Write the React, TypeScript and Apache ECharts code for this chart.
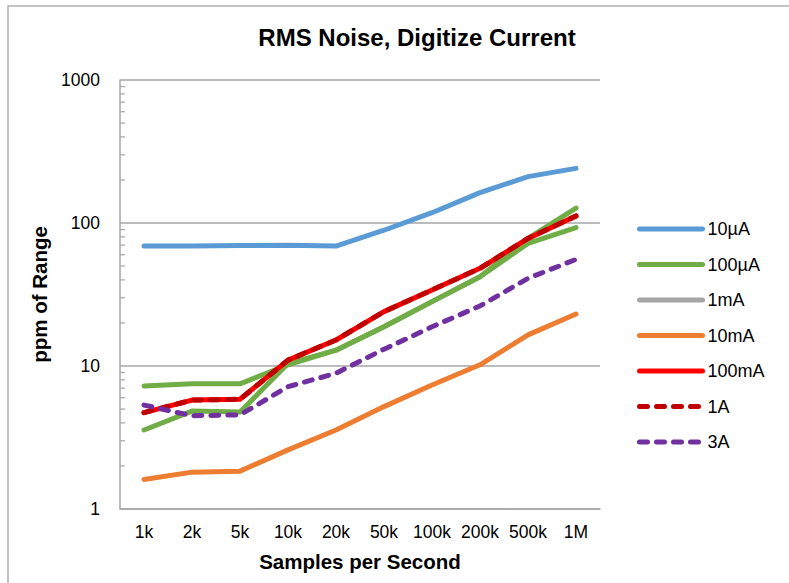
import React, { useEffect, useRef } from "react";
import * as echarts from "echarts";

const categories = ["1k", "2k", "5k", "10k", "20k", "50k", "100k", "200k", "500k", "1M"];
const s10uA = [69, 69, 69.5, 70, 69, 89, 118, 163, 211, 241];
const s100uA = [7.25, 7.5, 7.5, 10.2, 12.9, 18.8, 28.2, 42.1, 72, 93];
const s1mA = [3.57, 4.84, 4.77, 10.4, 12.9, 18.8, 28.2, 42.1, 78, 127];
const s10mA = [1.61, 1.81, 1.84, 2.59, 3.57, 5.2, 7.36, 10.2, 16.5, 23.1];
const s100mA = [4.72, 5.78, 5.85, 11.0, 15.2, 24, 34, 48.2, 78, 112];
const s1A = [4.72, 5.78, 5.85, 11.0, 15.2, 24, 34, 48.2, 78, 112];
const s3A = [5.33, 4.49, 4.55, 7.17, 8.9, 13.1, 18.8, 26.3, 41, 55.7];
const minorTickValues = [
  2, 3, 4, 5, 6, 7, 8, 9, 20, 30, 40, 50, 60, 70, 80, 90, 200, 300, 400, 500, 600, 700, 800, 900,
];
const yTicks = [1, 10, 100, 1000];

const FONT = "'Liberation Sans', Arial, Helvetica, sans-serif";
const AXIS_GRAY = "#a6a6a6";

export default function App() {
  const ref = useRef<HTMLDivElement>(null);
  useEffect(() => {
    if (!ref.current) return;
    const chart = echarts.init(ref.current, null, { renderer: "svg" });
    const lineSeries = (
      name: string,
      data: number[],
      color: string,
      dashed: boolean,
      z: number
    ) => ({
      name,
      type: "line",
      data,
      symbol: "none",
      showSymbol: false,
      z,
      color,
      lineStyle: {
        color,
        width: 5,
        type: dashed ? [8, 9] : "solid",
        cap: "round",
        join: "round",
      },
    });
    const option: any = {
      animation: false,
      textStyle: { fontFamily: FONT },
      title: {
        text: "RMS Noise, Digitize Current",
        left: 412,
        top: 20,
        textAlign: "center",
        textStyle: { fontFamily: FONT, fontSize: 24, fontWeight: "bold", color: "#000" },
      },
      graphic: [
        {
          type: "rect",
          shape: { x: 8, y: 6, width: 900, height: 700 },
          style: { fill: "none", stroke: "#b0b0b0", lineWidth: 1.5 },
          silent: true,
        },
      ],
      grid: { left: 120, top: 80, width: 480, height: 429 },
      legend: {
        orient: "vertical",
        left: 632,
        top: 215,
        itemWidth: 63,
        itemHeight: 18,
        itemGap: 17.5,
        itemStyle: { opacity: 0 },
        lineStyle: { width: 5, cap: "round" },
        textStyle: { fontFamily: FONT, fontSize: 18, color: "#000" },
        data: [
          { name: "10µA" },
          { name: "100µA" },
          { name: "1mA", lineStyle: { color: "#a5a5a5", width: 5, cap: "round" } },
          { name: "10mA" },
          { name: "100mA" },
          { name: "1A" },
          { name: "3A" },
        ],
      },
      xAxis: {
        type: "category",
        data: categories,
        boundaryGap: true,
        axisLine: { show: true, lineStyle: { color: AXIS_GRAY, width: 1.5 } },
        axisTick: { show: false },
        axisLabel: { color: "#000", fontSize: 17.5, fontFamily: FONT, margin: 14, interval: 0 },
        name: "Samples per Second",
        nameLocation: "middle",
        nameGap: 42,
        nameTextStyle: { fontFamily: FONT, fontSize: 20.5, fontWeight: "bold", color: "#000" },
      },
      yAxis: {
        type: "log",
        logBase: 10,
        min: yTicks[0],
        max: yTicks[yTicks.length - 1],
        axisLine: { show: true, lineStyle: { color: AXIS_GRAY, width: 1.5 } },
        axisTick: { show: false },
        splitLine: { show: true, lineStyle: { color: AXIS_GRAY, width: 1.5 } },
        axisLabel: {
          color: "#000",
          fontSize: 17.5,
          fontFamily: FONT,
          margin: 20,
          formatter: (v: number) => String(Math.round(v)),
        },
        name: "ppm of Range",
        nameLocation: "middle",
        nameGap: 66,
        nameRotate: 90,
        nameTextStyle: { fontFamily: FONT, fontSize: 20.5, fontWeight: "bold", color: "#000" },
      },
      series: [
        {
          name: "minorTicks",
          type: "custom",
          silent: true,
          z: 1,
          data: minorTickValues.map((v) => [0, v]),
          renderItem: (params: any, api: any) => {
            const y = api.coord([0, api.value(1)])[1];
            const x0 = params.coordSys.x;
            return {
              type: "line",
              shape: { x1: x0, y1: y, x2: x0 + 5, y2: y },
              style: { stroke: AXIS_GRAY, lineWidth: 1.2 },
            };
          },
        },
        lineSeries("10µA", s10uA, "#5b9bd5", false, 3),
        lineSeries("100µA", s100uA, "#70ad47", false, 3),
        lineSeries("1mA", s1mA, "#70ad47", false, 3),
        lineSeries("10mA", s10mA, "#ed7d31", false, 3),
        lineSeries("100mA", s100mA, "#ff0000", false, 4),
        lineSeries("1A", s1A, "#c00000", true, 5),
        lineSeries("3A", s3A, "#7030a0", true, 5),
      ],
    };
    chart.setOption(option);
    return () => chart.dispose();
  }, []);
  return (
    <div
      ref={ref}
      style={{ position: "absolute", left: 0, top: 0, width: 789, height: 583, background: "#fff" }}
    />
  );
}
